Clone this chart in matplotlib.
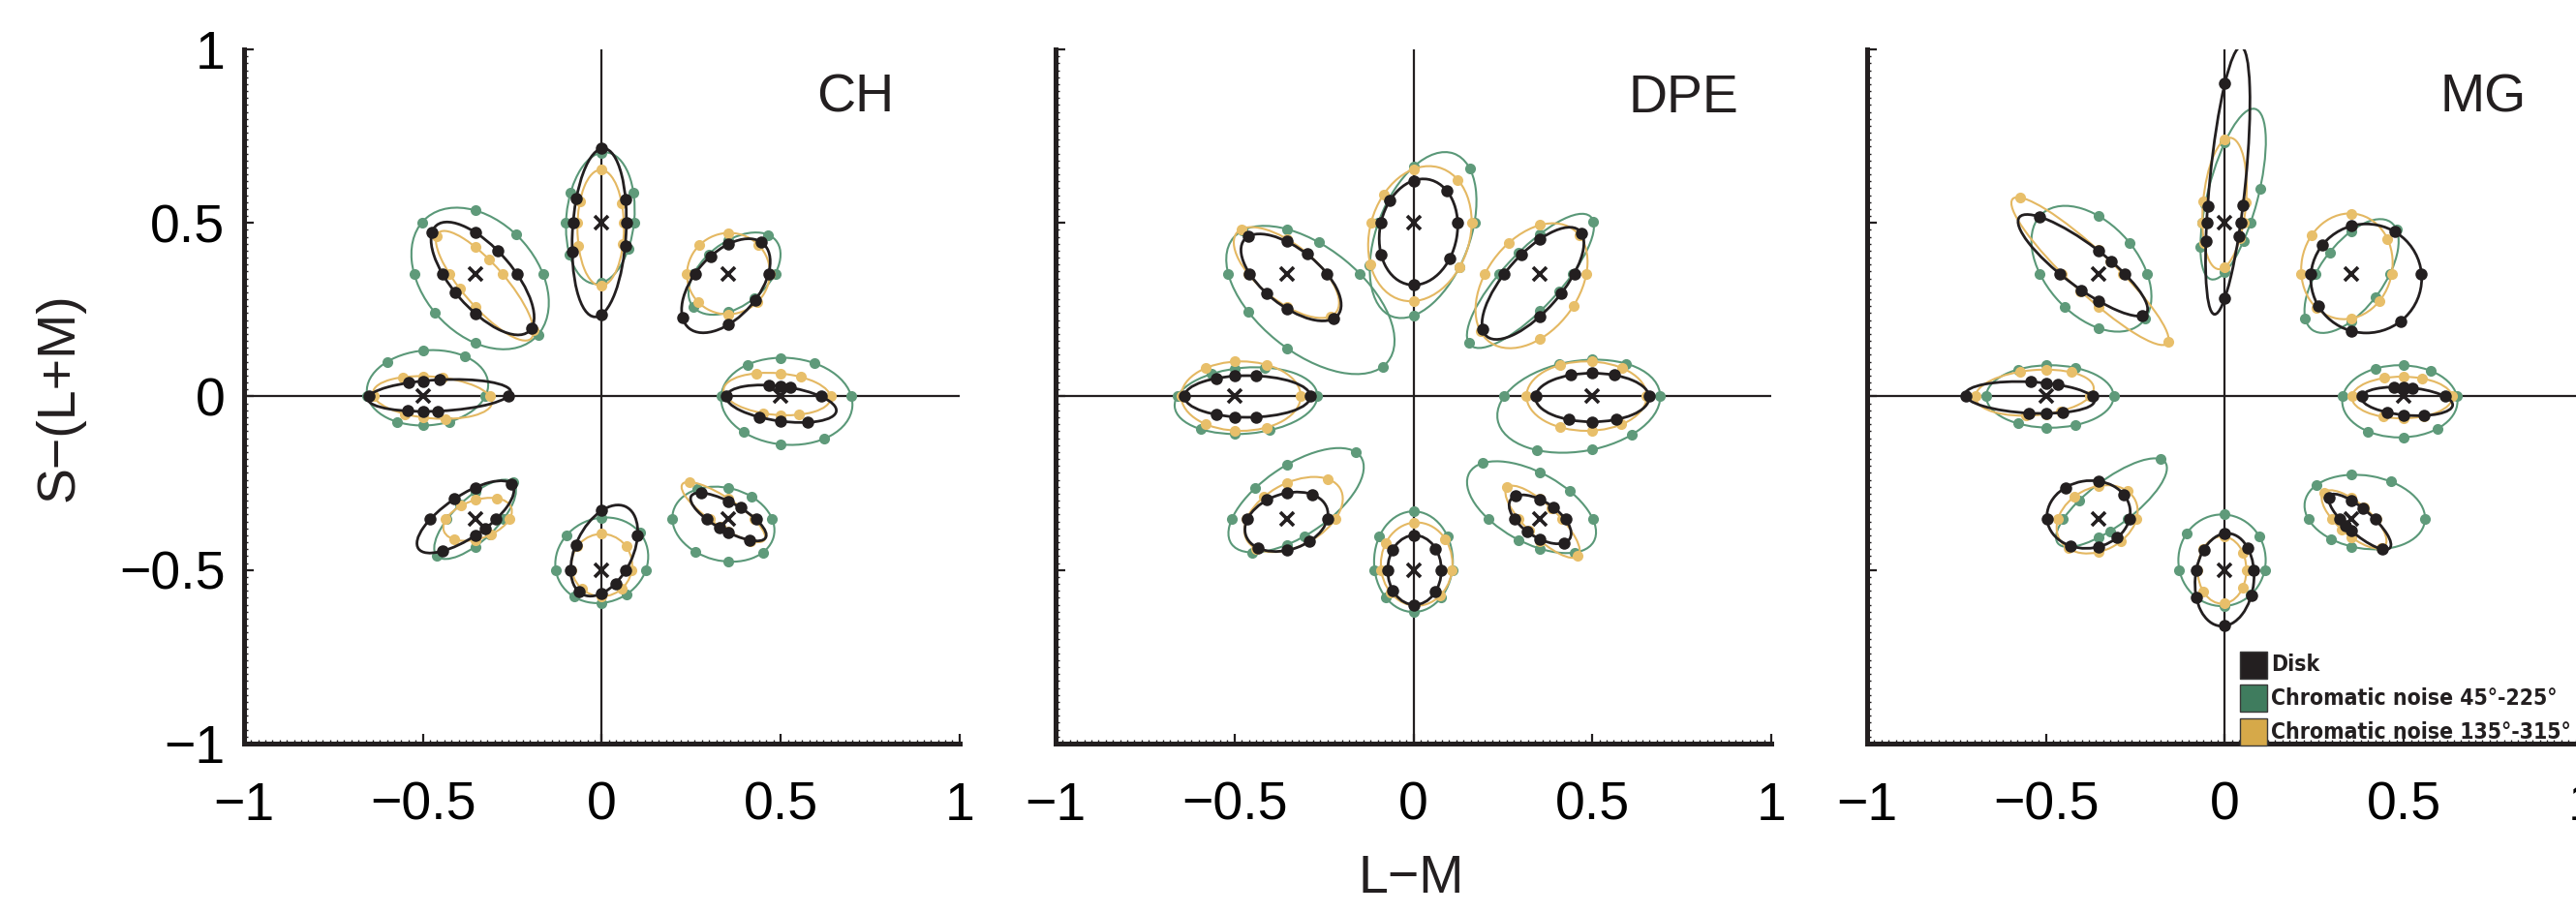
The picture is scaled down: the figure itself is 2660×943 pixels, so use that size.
import numpy as np
import matplotlib
matplotlib.use("Agg")
import matplotlib.pyplot as plt
from matplotlib.patches import Ellipse, Rectangle
from matplotlib.ticker import MultipleLocator
from matplotlib import font_manager
from matplotlib.font_manager import FontProperties

plt.rcParams["font.family"] = ["Liberation Sans", "DejaVu Sans"]

# reference points (the 8 test chromaticities), in (L-M, S-(L+M))
ref_x = [0.5, 0.354, 0.0, -0.354, -0.5, -0.354, 0.0, 0.354]
ref_y = [0.0, 0.354, 0.5, 0.354, 0.0, -0.354, -0.5, -0.354]

observers = ["CH", "DPE", "MG"]
conditions = ["Disk", "Chromatic noise 45°-225°", "Chromatic noise 135°-315°"]

# fitted ellipses: centre x, centre y, semi-major, semi-minor, angle (deg)
# one row per reference point, same order as ref_x / ref_y
ch_disk = [
    (0.502, -0.021, 0.155, 0.050, -8), (0.347, 0.319, 0.160, 0.090, 50),
    (-0.007, 0.472, 0.243, 0.075, 87), (-0.333, 0.340, 0.200, 0.085, 130),
    (-0.454, 0.003, 0.200, 0.045, 3), (-0.381, -0.347, 0.160, 0.060, 35),
    (0.007, -0.444, 0.140, 0.080, 65), (0.354, -0.347, 0.120, 0.040, -30),
]
ch_green = [
    (0.517, -0.014, 0.184, 0.125, -5), (0.371, 0.354, 0.150, 0.090, 40),
    (-0.004, 0.514, 0.190, 0.095, 85), (-0.340, 0.340, 0.230, 0.160, 130),
    (-0.487, 0.025, 0.170, 0.108, 5), (-0.354, -0.354, 0.150, 0.060, 45),
    (0.000, -0.472, 0.133, 0.120, 30), (0.340, -0.368, 0.145, 0.105, -15),
]
ch_yellow = [
    (0.490, 0.007, 0.150, 0.060, -5), (0.354, 0.354, 0.118, 0.115, 60),
    (-0.003, 0.486, 0.167, 0.065, 90), (-0.327, 0.319, 0.200, 0.060, 130),
    (-0.473, -0.003, 0.167, 0.060, -5), (-0.347, -0.354, 0.100, 0.055, 20),
    (0.000, -0.486, 0.090, 0.085, 90), (0.340, -0.333, 0.140, 0.040, -35),
]

dpe_disk = [
    (0.500, -0.003, 0.159, 0.070, 0), (0.334, 0.326, 0.200, 0.080, 50),
    (0.014, 0.474, 0.154, 0.108, 80), (-0.342, 0.343, 0.170, 0.080, 140),
    (-0.464, 0.000, 0.176, 0.060, 0), (-0.355, -0.361, 0.120, 0.080, 20),
    (0.003, -0.500, 0.100, 0.075, 90), (0.354, -0.354, 0.100, 0.050, -35),
]
dpe_green = [
    (0.462, -0.028, 0.230, 0.130, 10), (0.327, 0.333, 0.250, 0.080, 48),
    (0.027, 0.465, 0.250, 0.130, 70), (-0.288, 0.278, 0.280, 0.150, 140),
    (-0.468, -0.012, 0.200, 0.095, 5), (-0.328, -0.299, 0.220, 0.100, 35),
    (0.000, -0.476, 0.145, 0.110, 90), (0.330, -0.319, 0.200, 0.100, -30),
]
dpe_yellow = [
    (0.484, 0.001, 0.168, 0.100, 0), (0.330, 0.319, 0.200, 0.130, 55),
    (0.018, 0.469, 0.198, 0.140, 75), (-0.355, 0.357, 0.180, 0.080, 140),
    (-0.482, 0.001, 0.167, 0.100, 0), (-0.335, -0.340, 0.150, 0.090, 30),
    (0.009, -0.483, 0.120, 0.100, 90), (0.361, -0.361, 0.140, 0.045, -45),
]

mg_disk = [
    (0.509, -0.014, 0.128, 0.040, -5), (0.395, 0.340, 0.157, 0.155, 90),
    (0.008, 0.622, 0.387, 0.050, 84.5), (-0.397, 0.378, 0.225, 0.060, 142),
    (-0.545, -0.003, 0.181, 0.045, -3), (-0.381, -0.340, 0.117, 0.097, 10),
    (-0.001, -0.528, 0.134, 0.082, 85), (0.377, -0.361, 0.113, 0.035, -42),
]
mg_green = [
    (0.489, -0.014, 0.161, 0.104, 0), (0.354, 0.347, 0.190, 0.090, 55),
    (0.023, 0.583, 0.253, 0.070, 76), (-0.373, 0.368, 0.210, 0.130, 130),
    (-0.489, 0.000, 0.178, 0.090, 0), (-0.317, -0.306, 0.190, 0.065, 38),
    (-0.008, -0.472, 0.132, 0.122, 90), (0.391, -0.333, 0.170, 0.105, -10),
]
mg_yellow = [
    (0.495, -0.003, 0.140, 0.060, 0), (0.341, 0.375, 0.153, 0.127, 80),
    (-0.001, 0.556, 0.190, 0.060, 85), (-0.377, 0.361, 0.300, 0.060, 136),
    (-0.532, 0.011, 0.166, 0.065, 5), (-0.357, -0.354, 0.120, 0.090, 30),
    (-0.008, -0.500, 0.097, 0.068, 90), (0.361, -0.354, 0.115, 0.045, -42),
]

# panel -> (green, yellow, disk) in drawing order
panel_data = {
    "CH": (ch_green, ch_yellow, ch_disk),
    "DPE": (dpe_green, dpe_yellow, dpe_disk),
    "MG": (mg_green, mg_yellow, mg_disk),
}
probe_dirs = [0, 45, 90, 135, 180, 225, 270, 315]

line_cols = ["#5a9878", "#e4b862", "#231f20"]
dot_cols = ["#5f9a7a", "#e8bf6a", "#231f20"]
legend_cols = ["#231f20", "#3f7c5e", "#d6a949"]


def ray_hit(rx, ry, ang, ell):
    # point where a ray from the reference point meets the fitted ellipse
    cx, cy, a, b, th = ell
    th = np.radians(th)
    d = np.array([np.cos(np.radians(ang)), np.sin(np.radians(ang))])
    p = np.array([rx - cx, ry - cy])
    rot = np.array([[np.cos(th), np.sin(th)], [-np.sin(th), np.cos(th)]])
    q, qd = rot @ p, rot @ d
    A = qd[0] ** 2 / a ** 2 + qd[1] ** 2 / b ** 2
    B = 2 * (q[0] * qd[0] / a ** 2 + q[1] * qd[1] / b ** 2)
    C = q[0] ** 2 / a ** 2 + q[1] ** 2 / b ** 2 - 1
    t = (-B + np.sqrt(max(B * B - 4 * A * C, 0))) / (2 * A)
    return rx + t * d[0], ry + t * d[1]


def legend_font():
    # a narrow bold face if one is installed, else plain bold, a bit smaller
    best = None
    for f in font_manager.fontManager.ttflist:
        narrow = ("Narrow" in f.name or "Condensed" in f.name
                  or f.stretch in ("condensed", "semi-condensed"))
        bold = f.weight in ("bold", 700) or str(f.weight) == "700"
        if narrow and bold and "Oblique" not in f.fname and "Italic" not in f.fname:
            rank = 0 if "Liberation" in f.name else 1
            if best is None or rank < best[0]:
                best = (rank, f.fname)
    if best:
        return FontProperties(fname=best[1], size=16.5)
    return FontProperties(family="Liberation Sans", weight="bold", size=15)


fig = plt.figure(figsize=(26.6, 9.43), dpi=100)
lefts = [0.0947, 0.4098, 0.7248]

for i, obs in enumerate(observers):
    ax = fig.add_axes([lefts[i], 0.1856, 0.2778, 0.7603])
    ax.set_xlim(-1, 1)
    ax.set_ylim(-1, 1)
    for s in ["top", "right"]:
        ax.spines[s].set_visible(False)
    for s in ["left", "bottom"]:
        ax.spines[s].set_linewidth(3.6)
        ax.spines[s].set_color("#231f20")
    ax.xaxis.set_minor_locator(MultipleLocator(0.02))
    ax.yaxis.set_minor_locator(MultipleLocator(0.02))
    ax.tick_params(which="major", direction="in", length=7, width=1.6,
                   labelsize=40, color="#231f20")
    ax.tick_params(axis="x", which="major", pad=28)
    ax.tick_params(axis="y", which="major", pad=14)
    ax.tick_params(which="minor", direction="in", length=3, width=1.0,
                   color="#231f20")
    ax.set_xticks([-1, -0.5, 0, 0.5, 1])
    ax.set_xticklabels(["−1", "−0.5", "0", "0.5", "1"])
    ax.set_yticks([-1, -0.5, 0, 0.5, 1])
    if i == 0:
        ax.set_yticklabels(["−1", "−0.5", "0", "0.5", "1"])
    else:
        ax.set_yticklabels([])

    ax.axhline(0, color="#231f20", lw=1.6, zorder=1)
    ax.axvline(0, color="#231f20", lw=1.6, zorder=1)

    for k, ells in enumerate(panel_data[obs]):
        lw = 2.0 if k == 2 else 1.5
        ms = 9 if k == 2 else 8
        for j, ell in enumerate(ells):
            cx, cy, a, b, th = ell
            ax.add_patch(Ellipse((cx, cy), 2 * a, 2 * b, angle=th, fill=False,
                                 edgecolor=line_cols[k], lw=lw, zorder=2 + k))
            pts = [ray_hit(ref_x[j], ref_y[j], ang, ell) for ang in probe_dirs]
            ax.plot([p[0] for p in pts], [p[1] for p in pts], "o",
                    color=dot_cols[k], ms=ms, mew=0, zorder=2.5 + k)

    ax.plot(ref_x, ref_y, "x", color="#231f20", ms=10, mew=2.6, zorder=6)
    ax.text(0.6, 0.82, obs, fontsize=40, color="#231f20", ha="left", va="baseline")

    if obs == "MG":
        fp = legend_font()
        for r, (lab, col) in enumerate(zip(conditions, legend_cols)):
            top = -0.734 - 0.097 * r
            ax.add_patch(Rectangle((0.043, top - 0.078), 0.076, 0.078,
                                   facecolor=col, edgecolor="#3a3a3a", lw=1.0,
                                   clip_on=False, zorder=7))
            ax.text(0.13, top - 0.039, lab, fontproperties=fp,
                    color="#231f20", ha="left", va="center",
                    clip_on=False, zorder=7)

fig.text(0.023, 0.565, "S−(L+M)", rotation=90, fontsize=40, color="#231f20",
         ha="center", va="center")
fig.text(0.548, 0.037, "L−M", fontsize=40, color="#231f20", ha="center", va="center")

fig.savefig("out.png", dpi=100)
